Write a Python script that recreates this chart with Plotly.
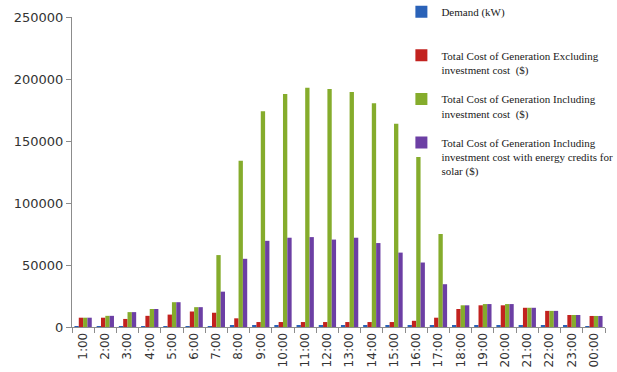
import plotly.graph_objects as go

hours = ["1:00", "2:00", "3:00", "4:00", "5:00", "6:00", "7:00", "8:00", "9:00", "10:00",
         "11:00", "12:00", "13:00", "14:00", "15:00", "16:00", "17:00", "18:00", "19:00",
         "20:00", "21:00", "22:00", "23:00", "00:00"]

demand_kw = [400, 380, 370, 380, 420, 550, 800, 1000, 1100, 1200, 1250, 1300, 1300, 1250,
             1200, 1150, 1200, 1300, 1400, 1400, 1300, 1100, 900, 700]

cost_excl = [7500, 7500, 6500, 9000, 10000, 12500, 11500, 7000, 4000, 4000, 4000, 4000,
             4000, 4000, 4000, 5000, 7500, 14500, 17500, 17500, 15500, 13000, 9700, 8900]

cost_incl = [7500, 9000, 12000, 14500, 20000, 16000, 58000, 134000, 174000, 188000, 193000,
             192000, 189500, 180500, 164000, 137000, 75000, 17500, 18500, 18500, 15500, 13000,
             9700, 8900]

cost_credit = [7500, 9000, 12000, 14500, 20000, 16000, 28500, 55000, 69500, 72000, 72500,
               70500, 72000, 67700, 60000, 52000, 34500, 17500, 18500, 18500, 15500, 13000,
               9700, 8900]

names = [
    "Demand (kW)<br> ",
    "Total Cost of Generation Excluding<br>investment cost  ($)",
    "Total Cost of Generation Including<br>investment cost  ($)",
    "Total Cost of Generation Including<br>investment cost with energy credits for<br>solar ($)",
]
colors = ["#2a62b8", "#c2221f", "#85ac2c", "#6c3fa4"]
series = [demand_kw, cost_excl, cost_incl, cost_credit]

fig = go.Figure()
for i, (nm, col, vals) in enumerate(zip(names, colors, series)):
    fig.add_trace(go.Bar(x=hours, y=vals, name=nm, marker_color=col,
                         marker_line_width=0, legendgroup=str(i)))

fig.update_layout(
    width=617, height=372,
    margin=dict(l=72, r=12, t=17, b=45, autoexpand=False),
    paper_bgcolor="white", plot_bgcolor="white",
    barmode="group", bargap=0.22, bargroupgap=0,
    showlegend=True,
    legend=dict(
        x=0.618, y=1.061, xanchor="left", yanchor="top",
        bgcolor="rgba(0,0,0,0)",
        font=dict(family="Liberation Serif", size=11, color="#1a1a1a"),
        valign="top", tracegroupgap=12, itemwidth=30,
    ),
    font=dict(family="DejaVu Sans", color="#404040"),
)
fig.update_yaxes(
    range=[0, 250000], tickvals=[0, 50000, 100000, 150000, 200000, 250000],
    ticktext=["0", "50000", "100000", "150000", "200000", "250000"],
    showgrid=False, zeroline=False, showline=True, linecolor="#8c8c8c", linewidth=1,
    ticks="outside", ticklen=5, tickcolor="#8c8c8c",
    tickfont=dict(family="DejaVu Sans", size=13, color="#333333"), automargin=False,
)
fig.update_xaxes(
    type="category", tickangle=-90, showgrid=False, showline=True,
    linecolor="#8c8c8c", linewidth=1, ticks="outside", ticklen=5, tickcolor="#8c8c8c",
    tickson="boundaries",
    tickfont=dict(family="DejaVu Sans", size=12, color="#333333"), automargin=False,
)

fig.write_html("out.html")
